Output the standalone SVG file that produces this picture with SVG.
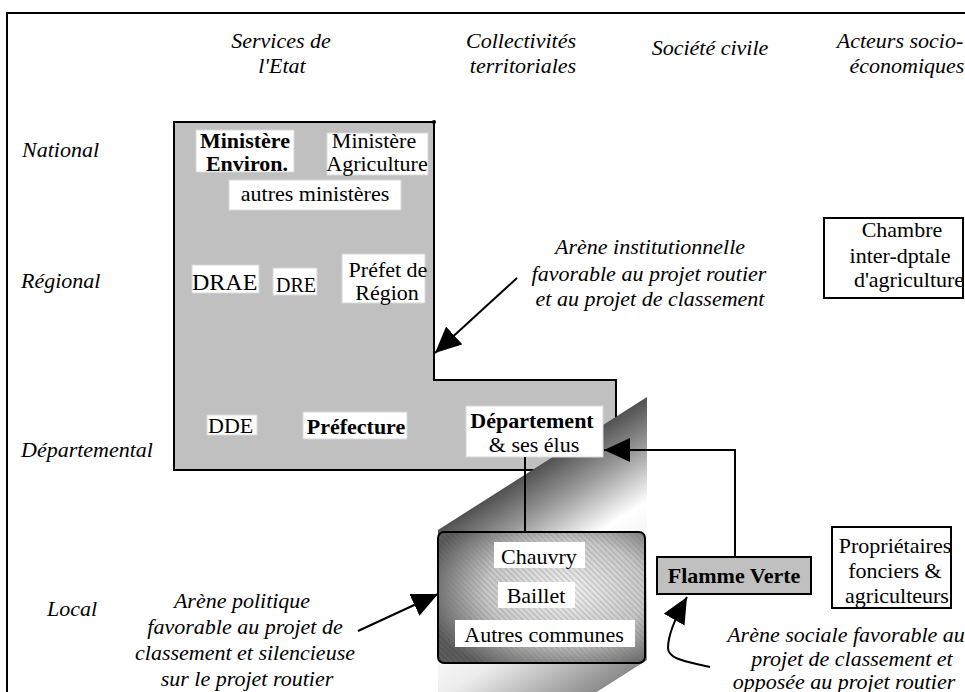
<svg xmlns="http://www.w3.org/2000/svg" width="965" height="692" viewBox="0 0 965 692" font-family="Liberation Serif, serif">
<style>
text{font-family:'Liberation Serif',serif;font-size:22px;fill:#000}
.it{font-style:italic}
.b{font-weight:bold}
.m{text-anchor:middle}
.lbl{fill:#fff;stroke:#d8d8d8;stroke-width:1}
.ln{fill:none;stroke:#000;stroke-width:2}
</style>
<defs>
<marker id="ah" viewBox="0 0 26 24" refX="26" refY="12" markerWidth="26" markerHeight="24" markerUnits="userSpaceOnUse" orient="auto">
<path d="M0,0 L26,12 L0,24 Z" fill="#000"/>
</marker>
<linearGradient id="slab" gradientUnits="userSpaceOnUse" x1="542" y1="463" x2="661" y2="650">
<stop offset="0" stop-color="#505050"/>
<stop offset="0.18" stop-color="#999"/>
<stop offset="0.4" stop-color="#fff"/>
<stop offset="0.65" stop-color="#ececec"/>
<stop offset="1" stop-color="#8c8c8c"/>
</linearGradient>
<radialGradient id="boxg" cx="0.62" cy="0.45" r="0.7">
<stop offset="0" stop-color="#f2f2f2"/>
<stop offset="0.55" stop-color="#c8c8c8"/>
<stop offset="1" stop-color="#555"/>
</radialGradient>
<pattern id="hatch" width="4" height="4" patternUnits="userSpaceOnUse" patternTransform="rotate(45)">
<rect width="4" height="1.2" fill="#777" opacity="0.35"/>
</pattern>
</defs>

<path d="M7,692 V13 H965" fill="none" stroke="#000" stroke-width="2"/>

<g id="headers">
<text class="it m" font-family="Liberation Serif" x="281" y="48">Services de</text>
<text class="it m" font-family="Liberation Serif" x="282" y="73">l'Etat</text>
<text class="it m" font-family="Liberation Serif" x="521" y="48">Collectivités</text>
<text class="it m" font-family="Liberation Serif" x="523" y="73">territoriales</text>
<text class="it m" font-family="Liberation Serif" x="710" y="55">Société civile</text>
<text class="it m" font-family="Liberation Serif" x="900" y="48">Acteurs socio-</text>
<text class="it m" font-family="Liberation Serif" x="907" y="73">économiques</text>
</g>

<g id="rows">
<text class="it" font-family="Liberation Serif" x="22" y="157">National</text>
<text class="it" font-family="Liberation Serif" x="21" y="288">Régional</text>
<text class="it" font-family="Liberation Serif" x="21" y="457">Départemental</text>
<text class="it" font-family="Liberation Serif" x="47" y="616">Local</text>
</g>

<g id="arene-institutionnelle">
<path d="M174,122 H434 V380 H616 V470 H174 Z" fill="#c0c0c0" stroke="#000" stroke-width="2"/>
<circle cx="434" cy="122" r="2" fill="#000"/>
</g>

<g id="arene-politique-slab">
<polygon points="438,530 647,397 647,660 438,793" fill="url(#slab)"/>
</g>

<g id="ministere-env">
<rect class="lbl" x="196" y="130" width="98" height="42"/>
<text class="b m" font-family="Liberation Serif" x="245" y="148">Ministère</text>
<text class="b m" font-family="Liberation Serif" x="247" y="171">Environ.</text>
</g>
<g id="ministere-agri">
<rect class="lbl" x="327" y="133" width="101" height="42"/>
<text class="m" font-family="Liberation Serif" x="374" y="148">Ministère</text>
<text class="m" font-family="Liberation Serif" x="377" y="171">Agriculture</text>
</g>
<g id="autres-ministeres">
<rect class="lbl" x="229" y="180" width="172" height="30"/>
<text class="m" font-family="Liberation Serif" x="315" y="201">autres ministères</text>
</g>
<g id="drae">
<rect class="lbl" x="192" y="265" width="67" height="28"/>
<text font-family="Liberation Serif" style="font-size:24px" x="192" y="290">DRAE</text>
</g>
<g id="dre">
<rect class="lbl" x="273" y="268" width="44" height="27"/>
<text font-family="Liberation Serif" style="font-size:20px" x="276" y="292">DRE</text>
</g>
<g id="prefet-region">
<rect class="lbl" x="342" y="254" width="83" height="49"/>
<text class="m" font-family="Liberation Serif" x="388" y="277">Préfet de</text>
<text class="m" font-family="Liberation Serif" x="387" y="300">Région</text>
</g>
<g id="dde">
<rect class="lbl" x="207" y="415" width="50" height="20"/>
<text font-family="Liberation Serif" x="208" y="433">DDE</text>
</g>
<g id="prefecture">
<rect class="lbl" x="303" y="412" width="104" height="27"/>
<text class="b m" font-family="Liberation Serif" x="356" y="434">Préfecture</text>
</g>
<g id="departement">
<rect class="lbl" x="466" y="406" width="137" height="51"/>
<text class="b m" font-family="Liberation Serif" x="532" y="428">Département</text>
<text class="m" font-family="Liberation Serif" x="534" y="452">&amp; ses élus</text>
</g>

<g id="communes">
<rect x="438" y="532" width="207" height="131" rx="6" fill="url(#boxg)"/>
<rect x="438" y="532" width="207" height="131" rx="6" fill="url(#hatch)" stroke="#000" stroke-width="2"/>
<rect x="494" y="542" width="91" height="26" fill="#fff"/>
<text class="m" font-family="Liberation Serif" x="539" y="564">Chauvry</text>
<rect x="498" y="582" width="77" height="26" fill="#fff"/>
<text class="m" font-family="Liberation Serif" x="536" y="603">Baillet</text>
<rect x="455" y="620" width="180" height="27" fill="#fff"/>
<text class="m" font-family="Liberation Serif" x="544" y="642">Autres communes</text>
</g>

<g id="flamme-verte">
<rect x="657" y="557" width="154" height="37" fill="#c0c0c0" stroke="#000" stroke-width="2"/>
<text class="b m" font-family="Liberation Serif" x="734" y="583">Flamme Verte</text>
</g>

<g id="chambre">
<rect x="824" y="218" width="139" height="80" fill="#fff" stroke="#000" stroke-width="2"/>
<text class="m" font-family="Liberation Serif" x="902" y="237">Chambre</text>
<text class="m" font-family="Liberation Serif" x="900" y="263">inter-dptale</text>
<text class="m" font-family="Liberation Serif" x="909" y="287">d'agriculture</text>
</g>

<g id="proprietaires">
<rect x="832" y="527" width="119" height="81" fill="#fff" stroke="#000" stroke-width="2"/>
<text class="m" font-family="Liberation Serif" x="895" y="553">Propriétaires</text>
<text class="m" font-family="Liberation Serif" x="895" y="578">fonciers &amp;</text>
<text class="m" font-family="Liberation Serif" x="897" y="603">agriculteurs</text>
</g>

<g id="annot-institutionnelle">
<text class="it m" font-family="Liberation Serif" x="650" y="254">Arène institutionnelle</text>
<text class="it m" font-family="Liberation Serif" x="649" y="281">favorable au projet routier</text>
<text class="it m" font-family="Liberation Serif" x="650" y="306">et au projet de classement</text>
</g>
<g id="annot-politique">
<text class="it m" font-family="Liberation Serif" x="242" y="608">Arène politique</text>
<text class="it m" font-family="Liberation Serif" x="245" y="634">favorable au projet de</text>
<text class="it m" font-family="Liberation Serif" x="245" y="660">classement et silencieuse</text>
<text class="it m" font-family="Liberation Serif" x="247" y="686">sur le projet routier</text>
</g>
<g id="annot-sociale">
<text class="it m" font-family="Liberation Serif" x="846" y="642">Arène sociale favorable au</text>
<text class="it m" font-family="Liberation Serif" x="852" y="666">projet de classement et</text>
<text class="it m" font-family="Liberation Serif" x="844" y="689">opposée au projet routier</text>
</g>

<g id="connectors">
<line class="ln" x1="525" y1="457" x2="525" y2="532"/>
<path class="ln" d="M735,557 V450 H604" marker-end="url(#ah)"/>
<path class="ln" d="M517,278 L435,353" marker-end="url(#ah)"/>
<path class="ln" d="M358,631 L438,594" marker-end="url(#ah)"/>
<path class="ln" d="M710,667 C690,662 668,660 668,648 C668,635 675,618 687,597" marker-end="url(#ah)"/>
</g>
</svg>
